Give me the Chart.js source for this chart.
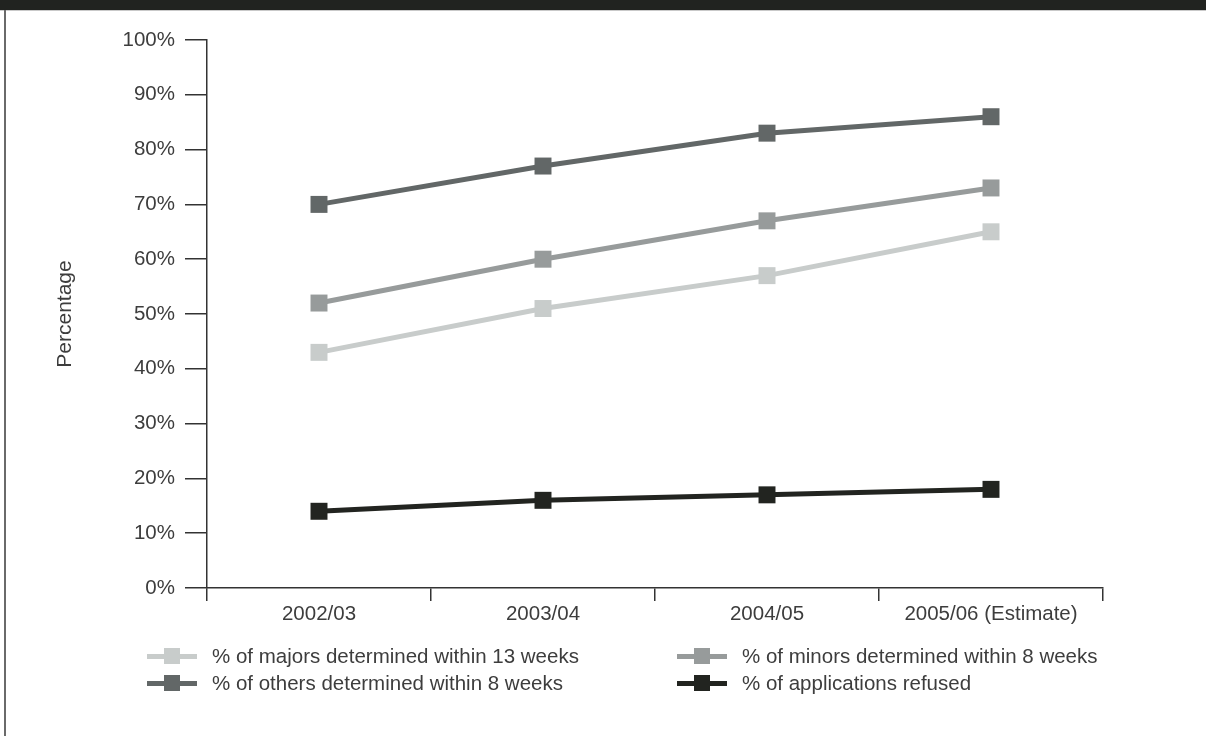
<!DOCTYPE html>
<html>
<head>
<meta charset="utf-8">
<script src="https://cdn.jsdelivr.net/npm/chart.js@4/dist/chart.umd.min.js"></script>
<style>
  html, body { margin: 0; padding: 0; background: #fff; }
  #wrap { position: relative; width: 1206px; height: 736px; overflow: hidden; font-family: "Liberation Sans", Arial, sans-serif; }
  #band { position: absolute; left: 0; top: 0; width: 1206px; height: 10px; background: #212320; border-bottom: 1px solid #c9c9c9; }
  #edge { position: absolute; left: 4px; top: 10px; width: 2px; height: 726px; background: #6a6a6a; }
  #chart { position: absolute; left: 0; top: 0; }
  .leg { position: absolute; font-size: 20.5px; color: #3d3d3d; white-space: nowrap; line-height: 24px; }
  .sw { position: absolute; width: 50px; height: 5px; }
  .sw i { position: absolute; left: 17px; top: -5.5px; width: 16px; height: 16px; }
</style>
</head>
<body>
<div id="wrap">
  <canvas id="chart" width="1206" height="736"></canvas>
  <div id="band"></div>
  <div id="edge"></div>
  <div id="legend"></div>
</div>
<script>
// Planning performance by year
const years = ['2002/03', '2003/04', '2004/05', '2005/06 (Estimate)'];
const majorsWithin13 = [43, 51, 57, 65];
const minorsWithin8 = [52, 60, 67, 73];
const othersWithin8 = [70, 77, 83, 86];
const refused = [14, 16, 17, 18];
const seriesNames = [
  '% of majors determined within 13 weeks',
  '% of minors determined within 8 weeks',
  '% of others determined within 8 weeks',
  '% of applications refused'
];
const seriesColors = ['#c8cccb', '#979b9b', '#626767', '#222420'];
const seriesValues = [majorsWithin13, minorsWithin8, othersWithin8, refused];

const font = { family: '"Liberation Sans", Arial, sans-serif', size: 20.5 };
const axisColor = '#333333';

new Chart(document.getElementById('chart'), {
  type: 'line',
  data: {
    labels: years,
    datasets: seriesValues.map((vals, i) => ({
      label: seriesNames[i],
      data: vals,
      borderColor: seriesColors[i],
      backgroundColor: seriesColors[i],
      borderWidth: 5,
      pointStyle: 'rect',
      pointRadius: 12,
      pointHoverRadius: 12,
      pointBorderWidth: 0,
      tension: 0
    }))
  },
  options: {
    responsive: false,
    animation: false,
    events: [],
    layout: { padding: { left: 0, top: 40, right: 103, bottom: 0 } },
    plugins: { legend: { display: false }, tooltip: { enabled: false } },
    scales: {
      x: {
        offset: true,
        grid: { offset: true, drawOnChartArea: false, drawTicks: true, tickLength: 13, color: axisColor, lineWidth: 1.5 },
        border: { display: true, color: axisColor, width: 1.5 },
        ticks: { font: font, color: '#3d3d3d', padding: 1, maxRotation: 0 },
        afterFit: s => { s.height = 148; }
      },
      y: {
        min: 0, max: 100,
        grid: { drawOnChartArea: false, drawTicks: true, tickLength: 22, color: axisColor, lineWidth: 1.5 },
        border: { display: true, color: axisColor, width: 1.5 },
        ticks: { stepSize: 10, font: font, color: '#3d3d3d', padding: 10, callback: v => v + '%' },
        title: { display: true, text: 'Percentage', font: { family: font.family, size: 21 }, color: '#3d3d3d', padding: { top: 53, bottom: 0 } },
        afterFit: s => { s.width = 207; }
      }
    }
  }
});

// Legend in two columns
const legend = document.getElementById('legend');
const legendSlots = [
  { x: 147, y: 656 }, { x: 677, y: 656 },
  { x: 147, y: 683 }, { x: 677, y: 683 }
];
const legendOrder = [0, 1, 2, 3];
legendOrder.forEach((si, k) => {
  const p = legendSlots[k];
  const sw = document.createElement('div');
  sw.className = 'sw';
  sw.style.left = p.x + 'px';
  sw.style.top = (p.y - 2.5) + 'px';
  sw.style.background = seriesColors[si];
  const sq = document.createElement('i');
  sq.style.background = seriesColors[si];
  sw.appendChild(sq);
  legend.appendChild(sw);
  const t = document.createElement('div');
  t.className = 'leg';
  t.style.left = (p.x + 65) + 'px';
  t.style.top = (p.y - 12) + 'px';
  t.textContent = seriesNames[si];
  legend.appendChild(t);
});
</script>
</body>
</html>
